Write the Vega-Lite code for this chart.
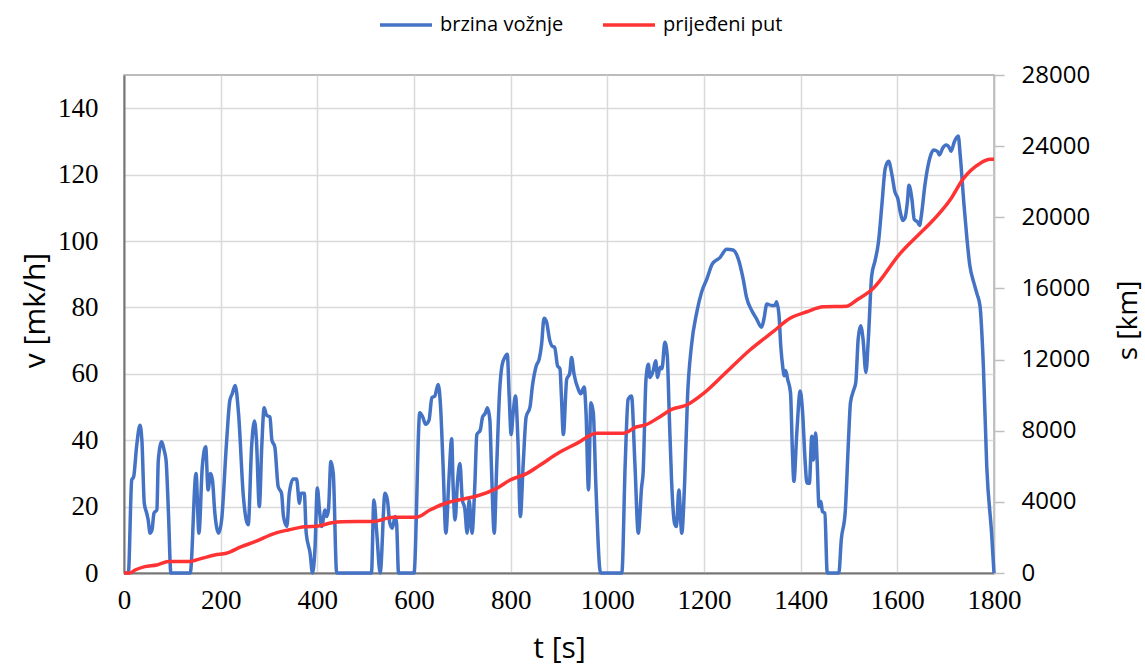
{
  "$schema": "https://vega.github.io/schema/vega-lite/v6.json",
  "autosize": {"type": "none"},
  "padding": {"left": 124, "top": 75, "right": 151, "bottom": 97},
  "width": 870,
  "height": 498,
  "background": "white",
  "config": {
    "view": {"stroke": "#a6a6a6", "strokeWidth": 1.5},
    "axis": {"gridColor": "#d9d9d9", "gridWidth": 1.5}
  },
  "datasets": {
    "speed": [
      {"t":0,"v":0},{"t":9,"v":0},{"t":16,"v":28},{"t":20,"v":29},{"t":26,"v":38},{"t":33,"v":44.5},{"t":37,"v":40},{"t":42,"v":21},{"t":47,"v":18},{"t":50,"v":16},{"t":54,"v":12},{"t":58,"v":13},{"t":62,"v":18},{"t":68,"v":19},{"t":71,"v":34},{"t":78,"v":39.5},{"t":83,"v":37},{"t":87,"v":34},{"t":92,"v":18},{"t":97,"v":0},
      {"t":137,"v":0},{"t":149,"v":30},{"t":155,"v":12},{"t":162,"v":32},{"t":169,"v":38},{"t":174,"v":25},{"t":179,"v":30},{"t":183,"v":28},{"t":188,"v":18},{"t":196,"v":12},{"t":202,"v":16},{"t":212,"v":39},{"t":219,"v":52},{"t":224,"v":54},{"t":230,"v":56.5},{"t":237,"v":48},{"t":247,"v":23},{"t":257,"v":14.5},{"t":264,"v":38},{"t":270,"v":45.8},{"t":274,"v":40},{"t":280,"v":20},{"t":285,"v":38},{"t":290,"v":49.8},{"t":295,"v":47.5},{"t":302,"v":47},{"t":306,"v":40},{"t":312,"v":38},{"t":319,"v":26},{"t":326,"v":24},{"t":330,"v":17},{"t":337,"v":14},{"t":342,"v":24},{"t":350,"v":28.3},{"t":357,"v":28.3},{"t":363,"v":21},{"t":366,"v":24},{"t":373,"v":24},{"t":377,"v":12},{"t":385,"v":6},{"t":390,"v":0},{"t":395,"v":7},{"t":400,"v":25.6},{"t":405,"v":18},{"t":409,"v":14},{"t":416,"v":19},{"t":419,"v":17},{"t":423,"v":19},{"t":428,"v":33.6},{"t":433,"v":30},{"t":440,"v":0},
      {"t":512,"v":0},{"t":517,"v":22},{"t":523,"v":12},{"t":530,"v":0},{"t":540,"v":24},{"t":545,"v":22},{"t":550,"v":15},{"t":555,"v":13.5},{"t":561,"v":17},{"t":564,"v":15},{"t":568,"v":0},
      {"t":600,"v":0},{"t":612,"v":48.3},{"t":618,"v":47},{"t":624,"v":44.8},{"t":631,"v":46},{"t":637,"v":52.8},{"t":643,"v":53.3},{"t":650,"v":56.8},{"t":655,"v":50},{"t":660,"v":33},{"t":666,"v":12},{"t":672,"v":27.5},{"t":678,"v":40.4},{"t":681,"v":26},{"t":685,"v":16},{"t":690,"v":27.5},{"t":695,"v":33},{"t":700,"v":22},{"t":705,"v":19.5},{"t":710,"v":12},{"t":714,"v":22},{"t":720,"v":12},{"t":726,"v":27},{"t":730,"v":41.7},{"t":737,"v":43},{"t":742,"v":47},{"t":747,"v":48},{"t":752,"v":49.8},{"t":757,"v":46},{"t":760,"v":33},{"t":766,"v":12},{"t":771,"v":31.7},{"t":777,"v":54.3},{"t":782,"v":62.4},{"t":788,"v":65},{"t":793,"v":65.9},{"t":797,"v":53},{"t":801,"v":41.7},{"t":805,"v":48},{"t":810,"v":53.3},{"t":815,"v":40},{"t":820,"v":17},{"t":826,"v":33},{"t":832,"v":47},{"t":840,"v":50},{"t":845,"v":56.3},{"t":853,"v":62.4},{"t":859,"v":64.4},{"t":864,"v":68.9},{"t":869,"v":76.7},{"t":874,"v":75.7},{"t":881,"v":70},{"t":886,"v":68.3},{"t":891,"v":68},{"t":897,"v":62.4},{"t":902,"v":61.5},{"t":905,"v":53.3},{"t":909,"v":41.7},{"t":916,"v":58.4},{"t":922,"v":60},{"t":926,"v":64.9},{"t":931,"v":60},{"t":940,"v":55.3},{"t":945,"v":54},{"t":952,"v":56},{"t":956,"v":48},{"t":961,"v":25},{"t":966,"v":51.3},{"t":971,"v":48.3},{"t":976,"v":27.5},{"t":986,"v":0},
      {"t":1030,"v":0},{"t":1037,"v":33},{"t":1043,"v":52.3},{"t":1050,"v":53.3},{"t":1057,"v":33},{"t":1064,"v":12},{"t":1071,"v":26},{"t":1074,"v":30},{"t":1080,"v":58.4},{"t":1085,"v":62.9},{"t":1088,"v":58.9},{"t":1095,"v":61},{"t":1100,"v":63.9},{"t":1104,"v":58.9},{"t":1109,"v":62},{"t":1113,"v":61.5},{"t":1119,"v":69.5},{"t":1124,"v":65.4},{"t":1128,"v":48.3},{"t":1133,"v":27.5},{"t":1139,"v":15},{"t":1143,"v":14},{"t":1148,"v":25},{"t":1154,"v":12},{"t":1160,"v":27.5},{"t":1166,"v":53.3},{"t":1174,"v":68.4},{"t":1185,"v":78.5},{"t":1195,"v":84.6},{"t":1206,"v":88.6},{"t":1217,"v":93},{"t":1233,"v":95},{"t":1247,"v":97.5},{"t":1260,"v":97.3},{"t":1270,"v":95},{"t":1281,"v":88.6},{"t":1288,"v":83},{"t":1299,"v":79},{"t":1309,"v":76.5},{"t":1319,"v":74},{"t":1324,"v":76.5},{"t":1330,"v":81},{"t":1340,"v":80.6},{"t":1347,"v":80.6},{"t":1350,"v":81.7},{"t":1355,"v":78},{"t":1359,"v":68},{"t":1363,"v":62},{"t":1366,"v":59.4},{"t":1369,"v":61},{"t":1373,"v":58.4},{"t":1379,"v":54.3},{"t":1383,"v":36.2},{"t":1386,"v":27.6},{"t":1392,"v":42.2},{"t":1399,"v":54.8},{"t":1404,"v":48.4},{"t":1409,"v":34.2},{"t":1413,"v":27.1},{"t":1418,"v":27},{"t":1423,"v":41.2},{"t":1426,"v":34},{"t":1431,"v":42.2},{"t":1434,"v":34},{"t":1438,"v":20},{"t":1442,"v":21.5},{"t":1445,"v":18.5},{"t":1450,"v":18},{"t":1455,"v":0},
      {"t":1479,"v":0},{"t":1484,"v":10},{"t":1492,"v":18},{"t":1499,"v":40.2},{"t":1503,"v":51.3},{"t":1509,"v":54.8},{"t":1514,"v":57.4},{"t":1519,"v":70.5},{"t":1524,"v":74.5},{"t":1529,"v":70.5},{"t":1535,"v":60.4},{"t":1540,"v":70.5},{"t":1547,"v":89.6},{"t":1554,"v":94.1},{"t":1561,"v":99.7},{"t":1568,"v":110.8},{"t":1575,"v":121.9},{"t":1582,"v":124},{"t":1589,"v":119.8},{"t":1595,"v":114.8},{"t":1601,"v":112.8},{"t":1606,"v":108.8},{"t":1611,"v":106.2},{"t":1616,"v":107},{"t":1621,"v":112},{"t":1624,"v":116.8},{"t":1630,"v":112.8},{"t":1635,"v":106.5},{"t":1642,"v":105.7},{"t":1646,"v":104.7},{"t":1650,"v":108},{"t":1657,"v":116.8},{"t":1668,"v":125.4},{"t":1675,"v":127.4},{"t":1683,"v":127},{"t":1687,"v":125.9},{"t":1694,"v":128},{"t":1701,"v":128.9},{"t":1708,"v":128},{"t":1711,"v":127},{"t":1718,"v":129.9},{"t":1726,"v":131.6},{"t":1730,"v":126},{"t":1738,"v":110.8},{"t":1744,"v":100.7},{"t":1750,"v":92.6},{"t":1758,"v":87.6},{"t":1765,"v":84},{"t":1771,"v":80.5},{"t":1778,"v":62.4},{"t":1785,"v":32.1},{"t":1795,"v":12},{"t":1800,"v":0}
    ],
    "dist": [
      {"t":0,"s":0},{"t":12,"s":0},{"t":23,"s":170},{"t":43,"s":360},{"t":68,"s":450},{"t":92,"s":640},{"t":133,"s":640},{"t":161,"s":825},{"t":188,"s":1010},{"t":212,"s":1110},{"t":243,"s":1480},{"t":271,"s":1760},{"t":312,"s":2230},{"t":340,"s":2420},{"t":374,"s":2600},{"t":402,"s":2640},{"t":430,"s":2830},{"t":450,"s":2885},{"t":516,"s":2900},{"t":557,"s":3130},{"t":605,"s":3130},{"t":633,"s":3540},{"t":661,"s":3880},{"t":709,"s":4200},{"t":730,"s":4330},{"t":771,"s":4760},{"t":799,"s":5230},{"t":834,"s":5600},{"t":861,"s":6070},{"t":902,"s":6800},{"t":923,"s":7100},{"t":937,"s":7290},{"t":978,"s":7855},{"t":1033,"s":7855},{"t":1061,"s":8225},{"t":1078,"s":8320},{"t":1109,"s":8790},{"t":1133,"s":9200},{"t":1164,"s":9445},{"t":1199,"s":10100},{"t":1240,"s":11130},{"t":1295,"s":12540},{"t":1343,"s":13570},{"t":1378,"s":14320},{"t":1413,"s":14690},{"t":1447,"s":14970},{"t":1495,"s":15000},{"t":1516,"s":15350},{"t":1550,"s":16000},{"t":1606,"s":17970},{"t":1647,"s":19100},{"t":1668,"s":19660},{"t":1709,"s":20970},{"t":1737,"s":22190},{"t":1771,"s":23030},{"t":1792,"s":23260},{"t":1800,"s":23260}
    ]
  },
  "encoding": {
    "x": {
      "field": "t", "type": "quantitative",
      "scale": {"domain": [0, 1800], "nice": false, "zero": false},
      "axis": {
        "values": [0,200,400,600,800,1000,1200,1400,1600,1800],
        "format": "d",
        "title": "t [s]",
        "titleFont": "Open Sans", "titleFontSize": 30, "titleFontWeight": "normal", "titleColor": "#000000",
        "titleBaseline": "middle", "titleX": 435, "titleY": 75,
        "labelFont": "Liberation Serif", "labelFontSize": 27, "labelColor": "#000000", "labelPadding": 14,
        "ticks": false, "domainColor": "#767676", "domainWidth": 2,
        "grid": true, "labelFlush": false
      }
    }
  },
  "layer": [
    {
      "data": {"name": "speed"},
      "mark": {"type": "line", "interpolate": "monotone", "strokeWidth": 3.5, "strokeJoin": "round"},
      "encoding": {
        "y": {
          "field": "v", "type": "quantitative",
          "scale": {"domain": [0, 150], "nice": false},
          "axis": {
            "orient": "left",
            "values": [0,20,40,60,80,100,120,140],
            "title": "v [mk/h]",
            "titleFont": "Open Sans", "titleFontSize": 30, "titleFontWeight": "normal", "titleColor": "#000000",
            "titleAngle": 270, "titleBaseline": "middle", "titleAlign": "center", "titleX": -89, "titleY": 235,
            "labelFont": "Liberation Serif", "labelFontSize": 27, "labelColor": "#000000", "labelPadding": 26,
            "ticks": false, "domainColor": "#767676", "domainWidth": 2, "grid": true
          }
        },
        "color": {
          "datum": "brzina vožnje",
          "type": "nominal",
          "scale": {"domain": ["brzina vožnje", "prijeđeni put"], "range": ["#4472C4", "#FF3333"]},
          "legend": {
            "title": null, "orient": "none", "direction": "horizontal",
            "legendX": 254, "legendY": -78,
            "symbolType": "stroke", "symbolSize": 2704, "symbolStrokeWidth": 3.5,
            "labelFont": "Open Sans", "labelFontSize": 20, "labelColor": "#000000",
            "labelOffset": 6, "columnPadding": 32, "padding": 0
          }
        }
      }
    },
    {
      "data": {"name": "dist"},
      "mark": {"type": "line", "interpolate": "monotone", "strokeWidth": 3.5},
      "encoding": {
        "y": {
          "field": "s", "type": "quantitative",
          "scale": {"domain": [0, 28000], "nice": false},
          "axis": {
            "orient": "right",
            "values": [0,4000,8000,12000,16000,20000,24000,28000],
            "format": "d",
            "title": "s [km]",
            "titleFont": "Open Sans", "titleFontSize": 28, "titleFontWeight": "normal", "titleColor": "#000000",
            "titleAngle": 270, "titleBaseline": "middle", "titleAlign": "center", "titleX": 134, "titleY": 245,
            "labelFont": "Open Sans", "labelFontSize": 24, "labelColor": "#000000", "labelPadding": 17,
            "ticks": true, "tickSize": 10, "tickColor": "#bfbfbf", "tickWidth": 1.5,
            "domainColor": "#bfbfbf", "domainWidth": 1.5, "grid": false
          }
        },
        "color": {"datum": "prijeđeni put", "type": "nominal"}
      }
    }
  ],
  "resolve": {"scale": {"y": "independent"}}
}
